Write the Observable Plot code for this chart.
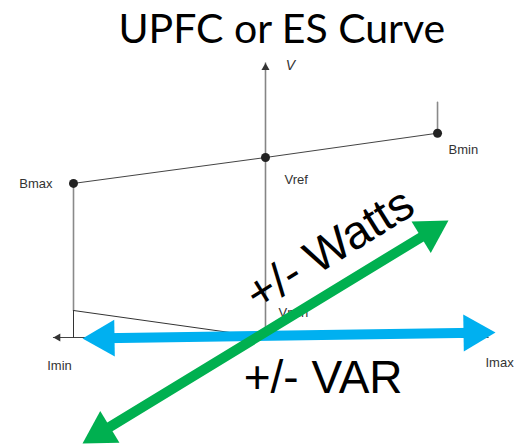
<!DOCTYPE html>
<html><head><meta charset="utf-8">
<script src="https://cdn.jsdelivr.net/npm/d3@7"></script>
<script src="https://cdn.jsdelivr.net/npm/@observablehq/plot@0.6"></script>
<style>body{margin:0;background:#fff;overflow:hidden}</style>
</head><body><div id="chart"></div>
<script>
// ---- data (I = current, V = voltage, arbitrary p.u.) ----
const titleText = ["UPFC or ES Curve"];
const pointLabels = ["Bmax", "Vref", "Bmin"];
const pointI = [-1, 0, 0.896];
const pointV = [0.856, 1.0, 1.135];
const vAxisI = [0, 0];
const vAxisV = [0, 1.525];
const iAxisI = [-1.105, 1.16];
const iAxisV = [0, 0];
const bminStubV = [1.135, 1.306];
const bmaxDropV = [0.856, 0.15];
const slopeI = [-1, 0];
const slopeV = [0.15, 0.0];
const axisLabels = ["Imin", "Imax"];
const axisLabelI = [-1.073, 1.219];
const axisLabelV = [-0.156, -0.139];
const vLabel = ["V"];
const vLabelI = [0.13];
const vLabelV = [1.511];
const vminLabel = ["Vmin"];
const vminI = [0.068];
const vminV = [0.139];
const varArrowI = [-0.953, 1.198];
const varArrowV = [-0.006, 0.028];
const wattArrowI = [-0.953, 0.953];
const wattArrowV = [-0.589, 0.65];
const bigLabels = ["+/- Watts", "+/- VAR"];
const bigLabelI = [0.335, 0.30];
const bigLabelV = [0.49, -0.228];

// ---- scales ----
const W = 526, H = 445;
const xDomain = [-265 / 192, 261 / 192];
const yDomain = [-108 / 180, 337 / 180];
const sx = d3.scaleLinear(xDomain, [0, W]);
const sy = d3.scaleLinear(yDomain, [H, 0]);

// build shaft + two filled heads for a double arrow
function doubleArrow(I, V, headH, inset) {
  const p1 = [sx(I[0]), sy(V[0])], p2 = [sx(I[1]), sy(V[1])];
  const dx = p2[0] - p1[0], dy = p2[1] - p1[1];
  const L = Math.hypot(dx, dy), ux = dx / L, uy = dy / L;
  const theta = Math.atan2(dy, dx) * 180 / Math.PI;
  const c = headH * 2 / 3;
  const inv = (p) => ({I: sx.invert(p[0]), V: sy.invert(p[1])});
  const shaft = [inv([p1[0] + inset * ux, p1[1] + inset * uy]), inv([p2[0] - inset * ux, p2[1] - inset * uy])];
  const heads = [
    {...inv([p1[0] + c * ux, p1[1] + c * uy]), rot: theta - 90},
    {...inv([p2[0] - c * ux, p2[1] - c * uy]), rot: theta + 90}
  ];
  return {shaft, heads};
}
const headH = 32;
const rHead = Math.sqrt(3 * Math.sqrt(3) * (headH / 3) ** 2 / Math.PI);
const varA = doubleArrow(varArrowI, varArrowV, headH, 20);
const wattA = doubleArrow(wattArrowI, wattArrowV, headH, 20);

const smallH = 7;
const rSmall = Math.sqrt(3 * Math.sqrt(3) * (smallH / 3) ** 2 / Math.PI);
const smallHeads = [
  {I: vAxisI[1], V: sy.invert(sy(vAxisV[1]) + smallH * 2 / 3), rot: 0},
  {I: sx.invert(sx(iAxisI[0]) + smallH * 2 / 3), V: iAxisV[0], rot: -90}
];

const pts = pointLabels.map((n, i) => ({n, I: pointI[i], V: pointV[i]}));
const labs = axisLabels.map((n, i) => ({n, I: axisLabelI[i], V: axisLabelV[i]}));
const font = "Liberation Sans, Arial, sans-serif";
const lbl = {x: "I", y: "V", text: "n", fontSize: 13, fontFamily: font, fill: "#333"};

const chart = Plot.plot({
  width: W, height: H,
  margin: 0,
  x: {domain: xDomain, axis: null},
  y: {domain: yDomain, axis: null},
  style: {background: "#fff"},
  marks: [
    // title
    Plot.text(titleText, {x: 0.085, y: 1.711, text: d => d, fontSize: 41, fontFamily: "Lato, Open Sans, sans-serif", fill: "#000", textAnchor: "middle"}),
    // axes
    Plot.line(vAxisI.map((d, i) => ({I: d, V: vAxisV[i]})), {x: "I", y: "V", stroke: "#858585", strokeWidth: 1.6}),
    Plot.line(iAxisI.map((d, i) => ({I: d, V: iAxisV[i]})), {x: "I", y: "V", stroke: "#444", strokeWidth: 1}),
    Plot.dot(smallHeads, {x: "I", y: "V", symbol: "triangle", r: rSmall, fill: "#333", stroke: null, rotate: "rot"}),
    // characteristic
    Plot.line(pts, {x: "I", y: "V", stroke: "#444", strokeWidth: 1}),
    Plot.line(bminStubV.map(v => ({I: pointI[2], V: v})), {x: "I", y: "V", stroke: "#8a8a8a", strokeWidth: 1.6}),
    Plot.line(bmaxDropV.map(v => ({I: pointI[0], V: v})), {x: "I", y: "V", stroke: "#8a8a8a", strokeWidth: 1.6}),
    Plot.line([{I: pointI[0], V: bmaxDropV[1]}, {I: pointI[0], V: 0}], {x: "I", y: "V", stroke: "#333", strokeWidth: 1}),
    Plot.line(slopeI.map((d, i) => ({I: d, V: slopeV[i]})), {x: "I", y: "V", stroke: "#333", strokeWidth: 1}),
    Plot.dot(pts, {x: "I", y: "V", r: 4.5, fill: "#222", stroke: null}),
    Plot.text(pts.filter(d => d.n === "Bmax"), {...lbl, dx: -21, textAnchor: "end"}),
    Plot.text(pts.filter(d => d.n === "Vref"), {...lbl, dx: 19, dy: 22, textAnchor: "start"}),
    Plot.text(pts.filter(d => d.n === "Bmin"), {...lbl, dx: 11, dy: 17, textAnchor: "start"}),
    Plot.text(labs, {...lbl, textAnchor: "middle"}),
    Plot.text(vLabel.map((n, i) => ({n, I: vLabelI[i], V: vLabelV[i]})), {...lbl, fontSize: 14, fontStyle: "italic", textAnchor: "middle"}),
    Plot.text(vminLabel.map((n, i) => ({n, I: vminI[i], V: vminV[i]})), {...lbl, textAnchor: "start"}),
    // big labels
    Plot.text([{n: bigLabels[0], I: bigLabelI[0], V: bigLabelV[0]}], {x: "I", y: "V", text: "n", fontSize: 47, fontFamily: font, fill: "#000", rotate: -32, textAnchor: "middle"}),
    // VAR arrow
    Plot.line(varA.shaft, {x: "I", y: "V", stroke: "#00B0F0", strokeWidth: 10}),
    Plot.dot(varA.heads, {x: "I", y: "V", symbol: "triangle", r: rHead, fill: "#00B0F0", stroke: null, rotate: "rot"}),
    // Watts arrow
    Plot.line(wattA.shaft, {x: "I", y: "V", stroke: "#00B050", strokeWidth: 10}),
    Plot.dot(wattA.heads, {x: "I", y: "V", symbol: "triangle", r: rHead, fill: "#00B050", stroke: null, rotate: "rot"}),
    Plot.text([{n: bigLabels[1], I: bigLabelI[1], V: bigLabelV[1]}], {x: "I", y: "V", text: "n", fontSize: 46, fontFamily: font, fill: "#000", textAnchor: "middle"})
  ]
});
document.getElementById("chart").append(chart);
</script>
</body></html>
